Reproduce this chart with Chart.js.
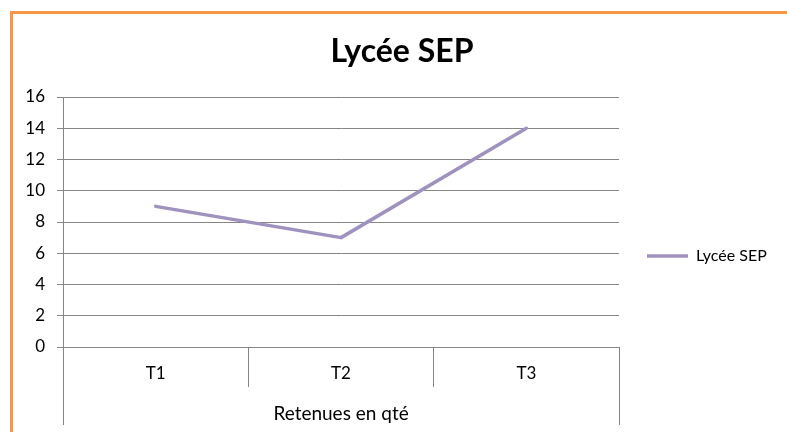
<!DOCTYPE html>
<html><head><meta charset="utf-8">
<script src="https://cdn.jsdelivr.net/npm/chart.js@4/dist/chart.umd.min.js"></script>
<style>
html,body{margin:0;padding:0;background:#fff;overflow:hidden;width:787px;height:432px;}
#frame{position:absolute;left:10px;top:11px;width:800px;height:450px;border-left:3px solid #F79646;border-top:3px solid #F79646;box-sizing:border-box;}
#wrap{position:absolute;left:0;top:0;width:787px;height:432px;}
</style></head><body>
<div id="frame"></div>
<div id="wrap"><canvas id="c" width="787" height="432"></canvas></div>
<script>
// ---- data ----
const chartTitle = 'Lycée SEP';
const categories = ['T1', 'T2', 'T3'];
const seriesName = 'Lycée SEP';
const seriesValues = [9, 7, 14];
const axisGroupLabel = 'Retenues en qté';
const yMin = 0;
const yMax = 16;
const yStep = 2;

// ---- style ----
const lineColor = '#A092BE';
const gridColor = '#868686';
const fontFamily = 'Lato, "Liberation Sans", sans-serif';

Chart.defaults.color = '#000';
Chart.defaults.font.family = fontFamily;

const alignPx = v => Math.round(v - 0.5) + 0.5;

const placeBoxes = {
  id: 'placeBoxes',
  afterLayout(chart) {
    const t = chart.titleBlock;
    if (t) { t.left = 17; t.right = 787; t.width = 770; }
    const lg = chart.legend;
    if (lg) { lg.left = 637; lg.right = 787; lg.width = 150; lg.top = 206; lg.bottom = 306; lg.height = 100; }
  },
  afterDraw(chart) {
    const {ctx, chartArea} = chart;
    const xs = chart.scales.x;
    const n = categories.length;
    const half = (xs.getPixelForTick(1) - xs.getPixelForTick(0)) / 2;
    const edges = [xs.getPixelForTick(0) - half, xs.getPixelForTick(n - 1) + half];
    ctx.save();
    ctx.strokeStyle = gridColor;
    ctx.lineWidth = 1;
    edges.forEach(x => {
      const px = alignPx(x);
      ctx.beginPath();
      ctx.moveTo(px, chartArea.bottom);
      ctx.lineTo(px, xs.bottom - 7);
      ctx.stroke();
    });
    ctx.restore();
  }
};

new Chart(document.getElementById('c'), {
  type: 'line',
  data: {
    labels: categories,
    datasets: [{
      label: seriesName,
      data: seriesValues,
      borderColor: lineColor,
      backgroundColor: lineColor,
      borderWidth: 3.5,
      borderJoinStyle: 'round',
      borderCapStyle: 'round',
      pointRadius: 0,
      pointHoverRadius: 0,
      tension: 0,
      fill: false
    }]
  },
  options: {
    responsive: false,
    animation: false,
    devicePixelRatio: 1,
    layout: { padding: { left: 10, right: 167.97, top: 22, bottom: 0 } },
    plugins: {
      title: {
        display: true,
        text: chartTitle,
        color: '#000',
        font: { family: fontFamily, size: 32, weight: 'bold', lineHeight: 1.2 },
        padding: { top: 10, bottom: 26.6 }
      },
      legend: {
        display: true,
        position: 'chartArea',
        align: 'center',
        labels: {
          usePointStyle: true,
          pointStyle: 'line',
          pointStyleWidth: 41,
          color: '#000',
          padding: 10,
          font: { family: fontFamily, size: 16 }
        }
      },
      tooltip: { enabled: false }
    },
    scales: {
      x: {
        type: 'category',
        offset: true,
        border: { display: true, color: gridColor, width: 1 },
        grid: { display: true, offset: true, drawOnChartArea: false, drawTicks: true, tickLength: 40, color: gridColor, lineWidth: 1 },
        ticks: { padding: -24, color: '#000', font: { family: fontFamily, size: 17 }, maxRotation: 0 },
        title: { display: true, text: axisGroupLabel, color: '#000', font: { family: fontFamily, size: 19 }, padding: { top: 0, bottom: 7 } },
        afterFit(scale) { scale.height = 85; }
      },
      y: {
        min: yMin,
        max: yMax,
        border: { display: true, color: gridColor, width: 1 },
        grid: { color: gridColor, lineWidth: 1, tickLength: 6, drawTicks: true },
        ticks: { stepSize: yStep, padding: 12, color: '#000', font: { family: fontFamily, size: 17 } },
        afterFit(scale) { scale.width = 53.03; }
      }
    }
  },
  plugins: [placeBoxes]
});
</script>
</body></html>
